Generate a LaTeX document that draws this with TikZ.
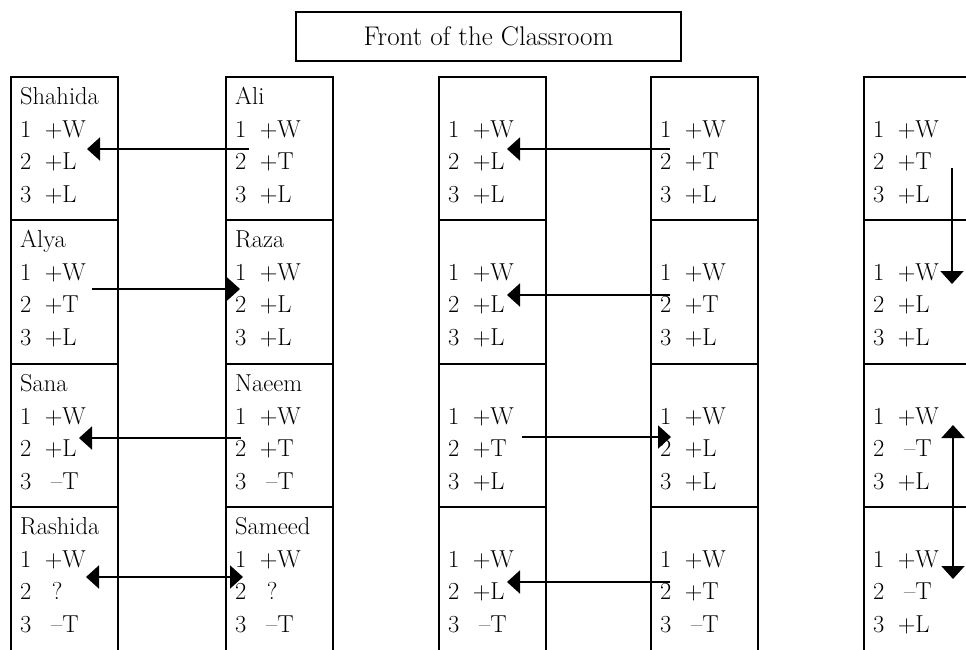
\documentclass[tikz,border=0pt]{standalone}
\usepackage{fontspec}
\usetikzlibrary{arrows.meta, calc}
\newcommand{\res}[3]{#1\hspace{12pt}\makebox[19pt][r]{#2}#3}

\begin{document}
\begin{tikzpicture}[x=1pt, y=-1pt,
  seat/.style={anchor=north west, inner sep=0pt, align=left, font=\fontsize{24.5}{32.5}\selectfont},
  grid/.style={line width=1.8pt},
  front/.style={draw, line width=1.3pt, minimum width=385pt, minimum height=49pt, font=\fontsize{27}{30}\selectfont},
  arrow/.style={->, >={Triangle[length=13pt, width=23pt]}, line width=2pt}
]
\useasboundingbox (0,0) rectangle (966,649);
\clip (0,0) rectangle (966,649);

\node[front] (front) at (488.5,36.5) {Front of the Classroom};

% desks
\foreach \x in {11,226,439,651,864} {
  \draw[grid] (\x,660) -- (\x,77) -- (\x+107,77) -- (\x+107,660);
  \foreach \y in {220,364,507}
    \draw[grid] (\x,\y) -- (\x+107,\y);
}

% first pair of columns
\node[seat] (a1) at (20,82) {\strut Shahida\\\res{1}{+}{W}\\\res{2}{+}{L}\\\res{3}{+}{L}};
\node[seat] (a2) at (20,225) {\strut Alya\\\res{1}{+}{W}\\\res{2}{+}{T}\\\res{3}{+}{L}};
\node[seat] (a3) at (20,369) {\strut Sana\\\res{1}{+}{W}\\\res{2}{+}{L}\\\res{3}{\textendash}{T}};
\node[seat] (a4) at (20,512) {\strut Rashida\\\res{1}{+}{W}\\\res{2}{?}{}\\\res{3}{\textendash}{T}};
\node[seat] (b1) at (235,82) {\strut Ali\\\res{1}{+}{W}\\\res{2}{+}{T}\\\res{3}{+}{L}};
\node[seat] (b2) at (235,225) {\strut Raza\\\res{1}{+}{W}\\\res{2}{+}{L}\\\res{3}{+}{L}};
\node[seat] (b3) at (235,369) {\strut Naeem\\\res{1}{+}{W}\\\res{2}{+}{T}\\\res{3}{\textendash}{T}};
\node[seat] (b4) at (235,512) {\strut Sameed\\\res{1}{+}{W}\\\res{2}{?}{}\\\res{3}{\textendash}{T}};

% second pair of columns
\node[seat] (c1) at (448,82) {\strut\\\res{1}{+}{W}\\\res{2}{+}{L}\\\res{3}{+}{L}};
\node[seat] (c2) at (448,225) {\strut\\\res{1}{+}{W}\\\res{2}{+}{L}\\\res{3}{+}{L}};
\node[seat] (c3) at (448,369) {\strut\\\res{1}{+}{W}\\\res{2}{+}{T}\\\res{3}{+}{L}};
\node[seat] (c4) at (448,512) {\strut\\\res{1}{+}{W}\\\res{2}{+}{L}\\\res{3}{\textendash}{T}};
\node[seat] (d1) at (660,82) {\strut\\\res{1}{+}{W}\\\res{2}{+}{T}\\\res{3}{+}{L}};
\node[seat] (d2) at (660,225) {\strut\\\res{1}{+}{W}\\\res{2}{+}{T}\\\res{3}{+}{L}};
\node[seat] (d3) at (660,369) {\strut\\\res{1}{+}{W}\\\res{2}{+}{L}\\\res{3}{+}{L}};
\node[seat] (d4) at (660,512) {\strut\\\res{1}{+}{W}\\\res{2}{+}{T}\\\res{3}{\textendash}{T}};

% last column
\node[seat] (e1) at (873,82) {\strut\\\res{1}{+}{W}\\\res{2}{+}{T}\\\res{3}{+}{L}};
\node[seat] (e2) at (873,225) {\strut\\\res{1}{+}{W}\\\res{2}{+}{L}\\\res{3}{+}{L}};
\node[seat] (e3) at (873,369) {\strut\\\res{1}{+}{W}\\\res{2}{\textendash}{T}\\\res{3}{+}{L}};
\node[seat] (e4) at (873,512) {\strut\\\res{1}{+}{W}\\\res{2}{\textendash}{T}\\\res{3}{+}{L}};

% swaps
\draw[arrow] ($(b1.north west)+(14,67)$) -- ($(a1.north west)+(67,67)$);
\draw[arrow] ($(a2.north west)+(72,64)$) -- ($(b2.north west)+(5,64)$);
\draw[arrow] ($(b3.north west)+(6,69)$) -- ($(a3.north west)+(59,69)$);
\draw[arrow, <->] ($(a4.north west)+(66,65)$) -- ($(b4.north west)+(8,65)$);
\draw[arrow] ($(d1.north west)+(10,67)$) -- ($(c1.north west)+(59,67)$);
\draw[arrow] ($(d2.north west)+(10,70)$) -- ($(c2.north west)+(59,70)$);
\draw[arrow] ($(c3.north west)+(74,68)$) -- ($(d3.north west)+(11,68)$);
\draw[arrow] ($(d4.north west)+(10,70)$) -- ($(c4.north west)+(59,70)$);
\draw[arrow] ($(e1.north west)+(79,86)$) -- ($(e2.north west)+(79,59)$);
\draw[arrow, <->] ($(e3.north west)+(80,56)$) -- ($(e4.north west)+(80,67)$);
\end{tikzpicture}
\end{document}
